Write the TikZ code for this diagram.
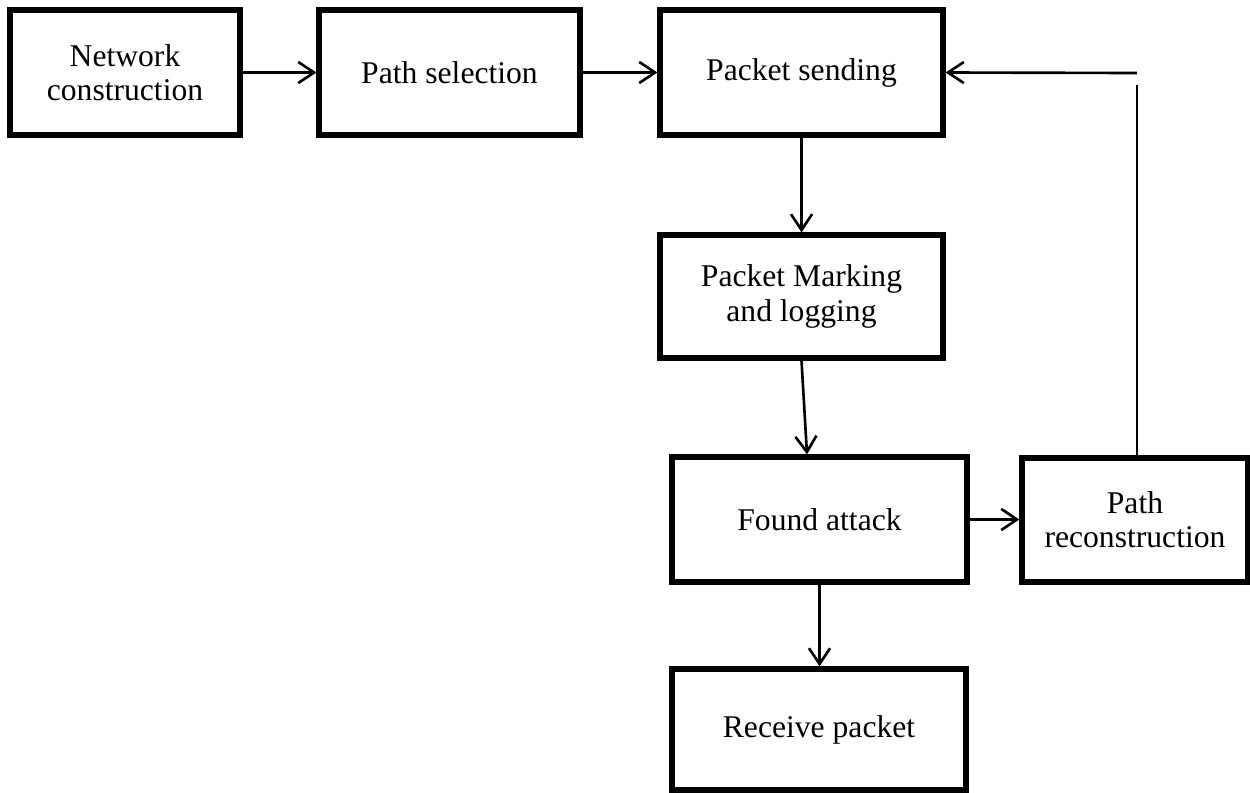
\documentclass[tikz,border=0pt]{standalone}
\usepackage{fontspec}
\setmainfont{Liberation Serif}
\usepackage{tikz}
\usetikzlibrary{arrows.meta, positioning, calc}
\usepackage{xcolor}
\definecolor{flowdark}{HTML}{000000}

\begin{document}
\begin{tikzpicture}[
  x=0.02cm, y=-0.02cm,
  box/.style={
    rectangle, line width=3pt,
    minimum width=4.6cm, minimum height=2.5cm,
    draw=flowdark, fill=white,
    font=\fontsize{18}{19.5}\selectfont, text=flowdark, align=center
  },
  arr/.style={-{Straight Barb[length=9pt, width=12pt]}, line width=1.5pt, flowdark}
]
  \useasboundingbox (0,0) rectangle (1250,792);

  % Top row
  \node[box, minimum width=4.6cm] (net) at (125,72.5) {Network\\construction};
  \node[box, minimum width=5.22cm] (sel) at (449.5,72.5) {Path selection};
  \node[box, minimum width=5.66cm] (send) at (801.5,72.5) {Packet sending};

  \draw[arr] (net) -- (sel);
  \draw[arr] (sel) -- (send);

  % Column
  \node[box, minimum width=5.66cm, minimum height=2.46cm] (mark) at (801.5,296.5)
    {Packet Marking\\and logging};
  \node[box, minimum width=5.9cm] (found) at (819.5,519.5) {Found attack};
  \node[box, minimum width=4.52cm, minimum height=2.48cm] (recon) at (1135,520)
    {Path\\reconstruction};
  \node[box, minimum width=5.88cm, minimum height=2.42cm] (recv) at (819,729.5)
    {Receive packet};

  \draw[arr] (send.south) -- (mark.north);
  \draw[arr] (mark.south) -- ($(found.north)+(-12.5,0)$);
  \draw[arr] (found.south) -- (found.south |- recv.north);
  \draw[arr] (found.east) -- (recon.west |- found.east);

  % Feedback
  \coordinate (fbtop) at (1137,85);
  \coordinate (fbcorner) at (1137,73);
  \draw[line width=1.2pt, flowdark] (fbtop |- recon.north) -- (fbtop);
  \draw[arr] (fbcorner) -- (send.east);
\end{tikzpicture}
\end{document}
